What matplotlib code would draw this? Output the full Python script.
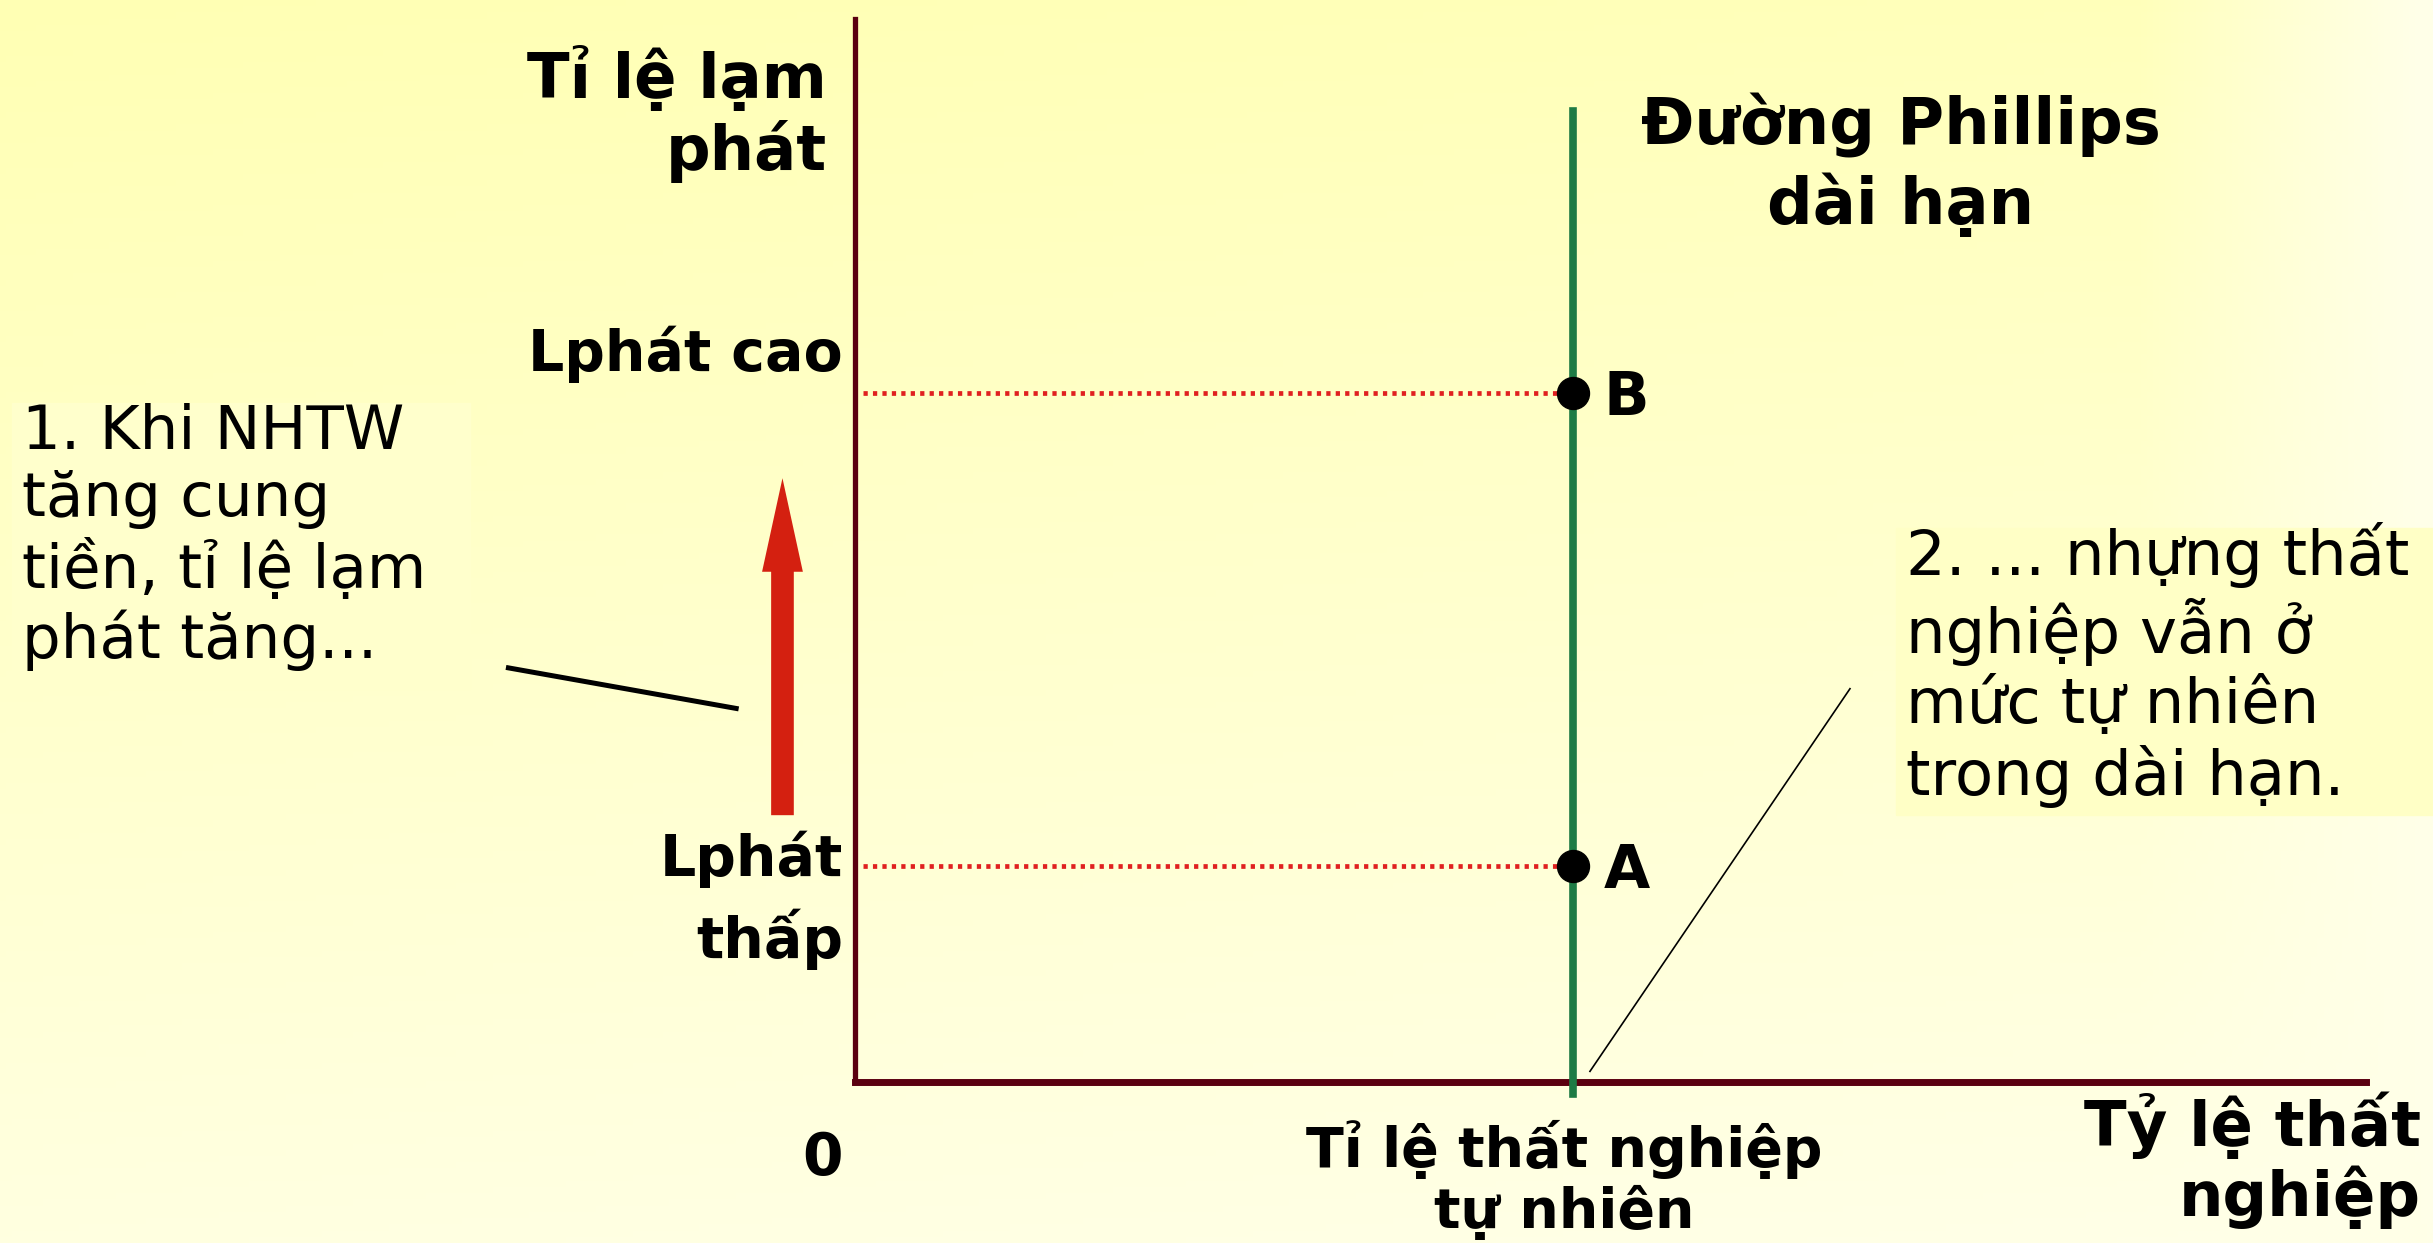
import numpy as np
import matplotlib.pyplot as plt
from matplotlib.patches import Rectangle

# du lieu (don vi tuy y: truc x 0..10, truc y 0..10)
u_tu_nhien = 4.75            # ti le that nghiep tu nhien
lp_thap = 2.03               # diem A
lp_cao = 6.48                # diem B
diem_x = [u_tu_nhien, u_tu_nhien]
diem_y = [lp_thap, lp_cao]
diem_ten = ['A', 'B']
phillips_y = [-0.11, 9.13]   # duong Phillips dai han (thang dung)
mui_ten_x = -0.48
mui_ten_y = [2.51, 5.68]
chu_thich1 = ([-2.31, -0.77], [3.90, 3.51])
chu_thich2 = ([6.585, 4.864], [3.70, 0.10])

W, H = 2433, 1243
fig = plt.figure(figsize=(W / 100, H / 100), dpi=100)

def px(x, y):
    return x / W, 1 - y / H

# nen vang chuyen mau
bg = fig.add_axes([0, 0, 1, 1], zorder=-10)
yy, xx = np.mgrid[0:1:200j, 0:1:400j]
t = np.clip(0.85 * yy + 0.9 * np.clip((xx - 0.88) / 0.12, 0, 1) * (1 - yy) + 0.15 * xx, 0, 1)
c0 = np.array([255, 255, 180]) / 255
c1 = np.array([255, 255, 232]) / 255
img = c0[None, None, :] * (1 - t[..., None]) + c1[None, None, :] * t[..., None]
bg.imshow(img, aspect='auto', extent=[0, 1, 0, 1])
bg.axis('off')

# hop chu thich
fig.patches.append(Rectangle(px(12, 689), 458 / W, 286 / H, transform=fig.transFigure,
                             color='#FFFFCC', zorder=-5))
fig.patches.append(Rectangle(px(1896, 815), 537 / W, 287 / H, transform=fig.transFigure,
                             color='#FFFFC6', zorder=-5))

L, R, B, T = 855, 2366, 1082, 19
ax = fig.add_axes([L / W, 1 - B / H, (R - L) / W, (B - T) / H])
ax.set_xlim(0, 10)
ax.set_ylim(0, 10)
ax.patch.set_alpha(0)
for s in ['top', 'right']:
    ax.spines[s].set_visible(False)
ax.spines['left'].set_color('#5A0010')
ax.spines['left'].set_linewidth(3.8)
ax.spines['bottom'].set_color('#5A0010')
ax.spines['bottom'].set_linewidth(5)
ax.set_xticks([])
ax.set_yticks([])

# duong cham do
for yv in diem_y:
    ax.plot([0.05, u_tu_nhien - 0.08], [yv, yv], color='#E02020', lw=3.4,
            linestyle=(0, (0.9, 1.1)), zorder=2)

ax.plot([u_tu_nhien, u_tu_nhien], phillips_y, color='#1E7B45', lw=5.5, clip_on=False, zorder=3)
ax.plot(diem_x, diem_y, 'o', color='black', ms=23, zorder=4)

# mui ten do
ax.arrow(mui_ten_x, mui_ten_y[0], 0, mui_ten_y[1] - mui_ten_y[0], width=0.15,
         head_width=0.27, head_length=0.88, length_includes_head=True,
         color='#D42010', lw=0, clip_on=False, zorder=3)

ax.plot(*chu_thich1, color='black', lw=3.6, clip_on=False, solid_capstyle='butt')
ax.plot(*chu_thich2, color='black', lw=1.2, clip_on=False)

def bold(fs):
    return dict(fontsize=fs, fontweight='bold', color='black')

fig.text(*px(827, 114), 'Tỉ lệ lạm\nphát', ha='right', va='center', ma='right',
         linespacing=1.17, **bold(45))
fig.text(*px(843, 354), 'Lphát cao', ha='right', va='center', **bold(41))
fig.text(*px(843, 900), 'Lphát\nthấp', ha='right', va='center', ma='right',
         linespacing=1.42, **bold(41))
fig.text(*px(822, 1158), '0', ha='center', va='center', **bold(42))
fig.text(*px(1564, 1180), 'Tỉ lệ thất nghiệp\ntự nhiên', ha='center', va='center',
         ma='center', linespacing=1.12, **bold(40))
fig.text(*px(2421, 1160), 'Tỷ lệ thất\nnghiệp', ha='right', va='center', ma='right',
         linespacing=1.12, **bold(45))
fig.text(*px(1901, 165), 'Đường Phillips\ndài hạn', ha='center', va='center', ma='center',
         linespacing=1.28, **bold(46))
for xv, yv, ten in zip(diem_x, diem_y, diem_ten):
    ax.annotate(ten, (xv, yv), xytext=(22, -4), textcoords='offset points',
                ha='left', va='center', **bold(43))

fig.text(*px(22, 537), '1. Khi NHTW\ntăng cung\ntiền, tỉ lệ lạm\nphát tăng...',
         ha='left', va='center', fontsize=44, linespacing=1.19, color='black')
fig.text(*px(1906, 665), '2. ... nhựng thất\nnghiệp vẫn ở\nmức tự nhiên\ntrong dài hạn.',
         ha='left', va='center', fontsize=45, linespacing=1.18, color='black')

fig.savefig('out.png', dpi=100)
